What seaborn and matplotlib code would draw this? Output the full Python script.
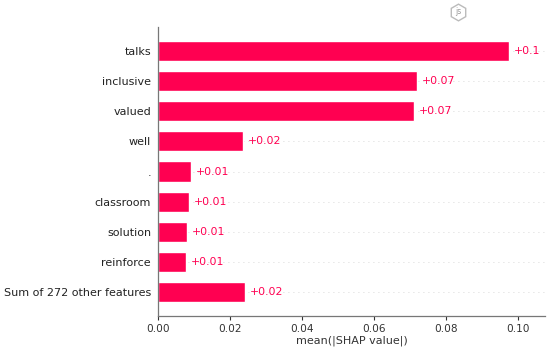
import pandas as pd
import matplotlib
matplotlib.use("Agg")
import matplotlib.pyplot as plt
import seaborn as sns

FEATURES = ["talks", "inclusive", "valued", "well", ".", "classroom",
            "solution", "reinforce", "Sum of 272 other features"]
MEAN_SHAP = [0.0975, 0.0719, 0.0710, 0.0236, 0.0091, 0.0085, 0.0081, 0.0079, 0.0242]
BAR_LABELS = ["+0.1", "+0.07", "+0.07", "+0.02", "+0.01", "+0.01", "+0.01", "+0.01", "+0.02"]
X_TICKS = [0.00, 0.02, 0.04, 0.06, 0.08, 0.10]

PINK = "#ff0051"
DARK = "#333333"

sns.set_theme(style="white")
df = pd.DataFrame({"feature": FEATURES, "value": MEAN_SHAP})

fig = plt.figure(figsize=(5.5, 3.52), dpi=100)
ax = fig.add_axes([158 / 550, 1 - 316 / 352, (545 - 158) / 550, (316 - 27) / 352])

sns.barplot(data=df, x="value", y="feature", color=PINK, saturation=1,
            width=0.67, orient="h", ax=ax, zorder=2)

# dotted row guides sit behind the bars like in shap
for i in range(len(FEATURES)):
    ax.axhline(i, color="#cccccc", lw=0.6, dashes=(1, 5), zorder=0)

for i, (val, lab) in enumerate(zip(MEAN_SHAP, BAR_LABELS)):
    ax.annotate(lab, (val, i), xytext=(3.5, 0), textcoords="offset points",
                color=PINK, fontsize=7.8, va="center", ha="left")

ax.set_xlim(0, 0.1075)
ax.set_ylim(len(FEATURES) - 1 + 0.8, -0.8)
ax.set_xticks(X_TICKS)
ax.set_xticklabels([f"{t:.2f}" for t in X_TICKS])
ax.set_xlabel("mean(|SHAP value|)", fontsize=8, color=DARK, labelpad=1)
ax.set_ylabel("")
ax.tick_params(axis="x", labelsize=7.6, colors=DARK, length=3, width=0.8, pad=3, bottom=True)
ax.tick_params(axis="y", labelsize=8, colors="#222222", length=0, pad=5)

sns.despine(ax=ax, top=True, right=True)
for side in ["left", "bottom"]:
    ax.spines[side].set_color("#777777")
    ax.spines[side].set_linewidth(0.9)

# small js badge above the chart
fig.text(458 / 550, 1 - 11.5 / 352, "js", fontsize=5.5, color="#999999", ha="center", va="center")
badge = plt.Line2D([458 / 550], [1 - 11.5 / 352], marker="h", ms=12, mfc="none", mec="#bbbbbb",
                   mew=1.0, transform=fig.transFigure)
fig.add_artist(badge)

fig.savefig("out.png", dpi=100)
